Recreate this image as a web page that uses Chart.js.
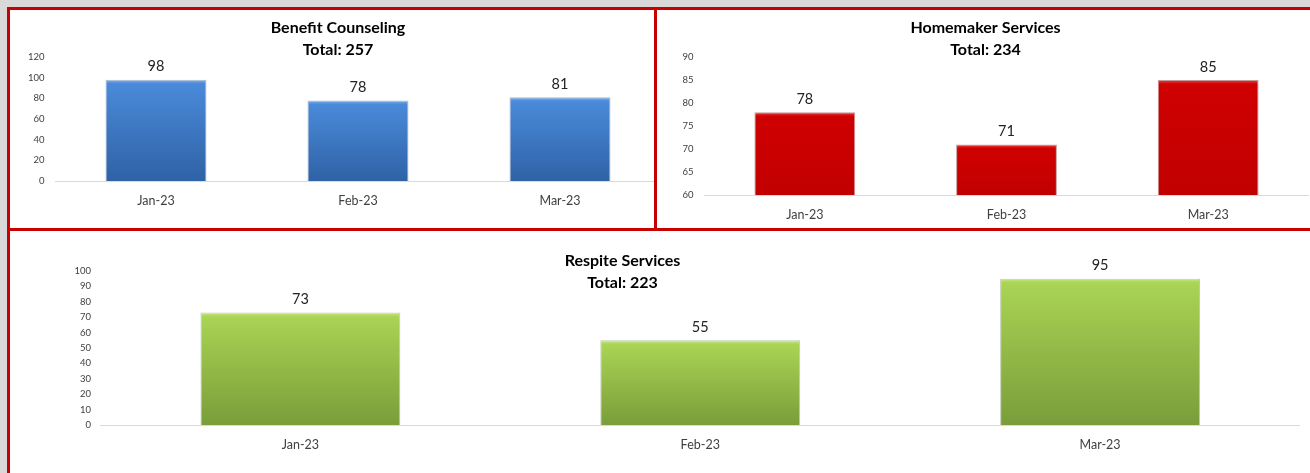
<!DOCTYPE html>
<html>
<head>
<meta charset="utf-8">
<script src="https://cdn.jsdelivr.net/npm/chart.js@4.4.1/dist/chart.umd.min.js"></script>
<style>
html, body { margin: 0; padding: 0; width: 1310px; height: 473px; overflow: hidden; background: #d9d9d9; }
#frame { position: absolute; left: 7px; top: 7px; width: 1320px; height: 480px; background: #fff; border-top: 3px solid #c80000; border-left: 3px solid #c80000; box-sizing: border-box; }
.hline { position: absolute; left: 7px; top: 228px; width: 1320px; height: 3px; background: #c80000; }
.vline { position: absolute; left: 654px; top: 7px; width: 3px; height: 223px; background: #c80000; }
.clip { position: absolute; overflow: hidden; }
.clip canvas { position: absolute; }
</style>
</head>
<body>
<div id="frame"></div>
<div class="clip" style="left:10px;top:10px;width:644px;height:218px;">
  <canvas id="chart_benefit" width="646" height="201" style="left:5px;top:0px;"></canvas>
</div>
<div class="clip" style="left:657px;top:10px;width:653px;height:218px;">
  <canvas id="chart_homemaker" width="647" height="215" style="left:5px;top:0px;"></canvas>
</div>
<div class="clip" style="left:10px;top:231px;width:1300px;height:242px;">
  <canvas id="chart_respite" width="1355" height="223" style="left:-65px;top:1px;"></canvas>
</div>
<div class="hline"></div>
<div class="vline"></div>
<script>
const months = ["Jan-23", "Feb-23", "Mar-23"];
const benefitCounseling = [98, 78, 81];
const homemakerServices = [78, 71, 85];
const respiteServices = [73, 55, 95];
const benefitTicks = [0, 120, 20];
const homemakerTicks = [60, 90, 5];
const respiteTicks = [0, 100, 10];

const FONT = "Lato, 'Open Sans', sans-serif";
const total = arr => arr.reduce((a, b) => a + b, 0);

// excel-ish bevel: light strip on top, then a vertical gradient per bar
function barFill(shine, top, bottom) {
    return function(context) {
        const chart = context.chart;
        if (!chart.chartArea || context.raw === undefined) return top;
        const y0 = chart.scales.y.getPixelForValue(context.raw);
        const y1 = chart.chartArea.bottom;
        const h = Math.max(y1 - y0, 1);
        const g = chart.ctx.createLinearGradient(0, y0, 0, y1);
        g.addColorStop(0, shine);
        g.addColorStop(Math.min(4 / h, 0.5), top);
        g.addColorStop(1, bottom);
        return g;
    };
}

const valueLabels = {
    id: "valueLabels",
    afterDatasetsDraw(chart) {
        const ctx = chart.ctx;
        const meta = chart.getDatasetMeta(0);
        const values = chart.data.datasets[0].data;
        ctx.save();
        ctx.font = "14.5px " + FONT;
        ctx.fillStyle = "#222";
        ctx.textAlign = "center";
        ctx.textBaseline = "middle";
        meta.data.forEach((bar, i) => {
            ctx.fillText(String(values[i]), bar.x, bar.y - 13);
        });
        ctx.restore();
    }
};

function makeChart(id, name, values, ticks, colors, opt) {
    const canvas = document.getElementById(id);
    return new Chart(canvas.getContext("2d"), {
        type: "bar",
        data: {
            labels: months,
            datasets: [{
                label: name,
                data: values,
                backgroundColor: barFill(colors[0], colors[1], colors[2]),
                borderColor: colors[3],
                borderWidth: 1,
                borderSkipped: "bottom",
                barPercentage: 1,
                categoryPercentage: 0.5
            }]
        },
        options: {
            responsive: false,
            animation: false,
            devicePixelRatio: 1,
            layout: { padding: 0 },
            plugins: {
                legend: { display: false },
                tooltip: { enabled: false },
                title: {
                    display: true,
                    text: [name, "Total: " + total(values)],
                    color: "#000",
                    font: { family: FONT, size: 16, weight: "bold", lineHeight: opt.lineHeight },
                    padding: { top: opt.titleTop, bottom: opt.titleBottom }
                }
            },
            scales: {
                x: {
                    grid: { display: false, drawTicks: false },
                    border: { display: true, color: "#d9d9d9", width: 1 },
                    ticks: { color: "#404040", font: { family: FONT, size: 12.5 }, padding: 12 },
                    afterFit: s => { s.height = 30; }
                },
                y: {
                    min: ticks[0],
                    max: ticks[1],
                    grid: { display: false, drawTicks: false },
                    border: { display: false },
                    ticks: { stepSize: ticks[2], color: "#404040", font: { family: FONT, size: 9.5 }, padding: opt.tickPad },
                    afterFit: s => { s.width = opt.axisWidth; }
                }
            }
        },
        plugins: [valueLabels]
    });
}

makeChart("chart_benefit", "Benefit Counseling", benefitCounseling, benefitTicks,
    ["#7fb1ea", "#4a8ad9", "#2f62a6", "rgba(20,50,100,0.35)"],
    { lineHeight: "22px", titleTop: 6.5, titleBottom: -3.5, tickPad: 10.5, axisWidth: 40 });

makeChart("chart_homemaker", "Homemaker Services", homemakerServices, homemakerTicks,
    ["#ee4444", "#cf0000", "#c20000", "rgba(110,0,0,0.4)"],
    { lineHeight: "22px", titleTop: 6.5, titleBottom: -3.5, tickPad: 10.5, axisWidth: 42 });

makeChart("chart_respite", "Respite Services", respiteServices, respiteTicks,
    ["#cbe884", "#a9d454", "#7a9d3a", "rgba(70,100,20,0.35)"],
    { lineHeight: "22.5px", titleTop: 17.25, titleBottom: -23.25, tickPad: 9.5, axisWidth: 155.5 });
</script>
</body>
</html>
